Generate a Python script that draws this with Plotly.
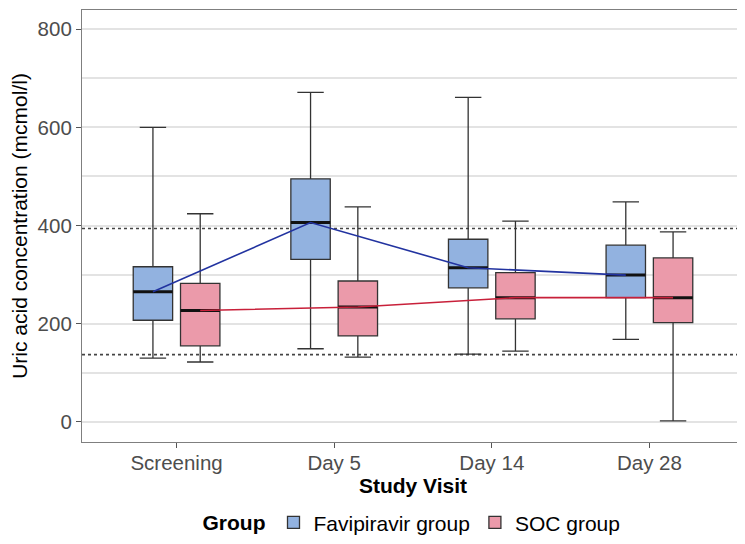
import plotly.graph_objects as go

# ---------------- data ----------------
visits = ["Screening", "Day 5", "Day 14", "Day 28"]

fav_low = [130, 149, 138, 168]
fav_q1 = [207, 331, 273, 253]
fav_med = [265, 406, 314, 299]
fav_q3 = [316, 495, 372, 360]
fav_high = [600, 671, 661, 448]

soc_low = [122, 132, 144, 2]
soc_q1 = [155, 175, 210, 202]
soc_med = [227, 234, 253, 253]
soc_q3 = [282, 287, 304, 334]
soc_high = [424, 438, 409, 387]

ref_lines = [137, 394]
y_ticks = [0, 200, 400, 600, 800]

# ---------------- style ----------------
FONT = "Liberation Sans, Arial, sans-serif"
OFFSET = 0.15
BOXW = 0.25
groups = [
    dict(name="Favipiravir group", sign=-1, fill="#92B2E0", line="#2233A0",
         low=fav_low, q1=fav_q1, med=fav_med, q3=fav_q3, high=fav_high),
    dict(name="SOC group", sign=1, fill="#EB9AAA", line="#C8203A",
         low=soc_low, q1=soc_q1, med=soc_med, q3=soc_q3, high=soc_high),
]

fig = go.Figure()

for g in groups:
    pos = [i + g["sign"] * OFFSET for i in range(len(visits))]
    fig.add_trace(go.Box(
        name=g["name"], x=pos, q1=g["q1"], median=g["med"], q3=g["q3"],
        lowerfence=g["low"], upperfence=g["high"],
        width=BOXW, whiskerwidth=0.67, boxpoints=False,
        fillcolor=g["fill"], line=dict(color="#333333", width=1.3),
        hoverinfo="skip",
    ))

for g in groups:
    pos = [i + g["sign"] * OFFSET for i in range(len(visits))]
    mx, my = [], []
    for p, m in zip(pos, g["med"]):
        mx += [p - BOXW / 2, p + BOXW / 2, None]
        my += [m, m, None]
    fig.add_trace(go.Scatter(x=mx, y=my, mode="lines",
                             line=dict(color="#111111", width=3),
                             showlegend=False, hoverinfo="skip"))

for g in groups:
    pos = [i + g["sign"] * OFFSET for i in range(len(visits))]
    fig.add_trace(go.Scatter(x=pos, y=g["med"], mode="lines",
                             line=dict(color=g["line"], width=1.6),
                             showlegend=False, hoverinfo="skip"))

for r in ref_lines:
    fig.add_shape(type="line", xref="paper", x0=0, x1=1, yref="y", y0=r, y1=r,
                  line=dict(color="#444444", width=1.6, dash="dot"), layer="below")

fig.update_layout(
    width=737, height=536,
    margin=dict(l=74, r=1, t=2, b=102, autoexpand=False),
    paper_bgcolor="white", plot_bgcolor="white",
    font=dict(family=FONT, size=20, color="#4D4D4D"),
    showlegend=True,
    legend=dict(
        orientation="h", x=0.5, xanchor="center", y=-0.187, yanchor="middle",
        title=dict(text="<b>Group</b>", side="left", font=dict(size=21, color="black")),
        font=dict(size=21, color="black"),
        itemwidth=30, tracegroupgap=0,
    ),
    xaxis=dict(
        range=[-0.6, 3.6], tickvals=list(range(len(visits))), ticktext=visits,
        showgrid=False, zeroline=False, ticks="outside", ticklen=5,
        tickcolor="#555555", tickfont=dict(size=20.5, color="#4D4D4D"),
        ticklabelstandoff=-3,
        showline=True, linecolor="#7F7F7F", linewidth=1.2, mirror=True,
        automargin=False,
        title=dict(text="<b>Study Visit</b>", font=dict(size=21, color="black"), standoff=0),
    ),
    yaxis=dict(
        range=[-41, 839], tickvals=y_ticks, ticks="outside", ticklen=5,
        tickcolor="#555555", tickfont=dict(size=20.5, color="#4D4D4D"),
        showgrid=True, gridcolor="#E3E3E3", gridwidth=2, zeroline=False,
        minor=dict(dtick=100, showgrid=True, gridcolor="#E3E3E3", gridwidth=2),
        showline=True, linecolor="#7F7F7F", linewidth=1.2, mirror=True,
        automargin=False,
        title=dict(text="Uric acid concentration (mcmol/l)", font=dict(size=21, color="black"), standoff=5),
    ),
)

fig.write_html("out.html")
